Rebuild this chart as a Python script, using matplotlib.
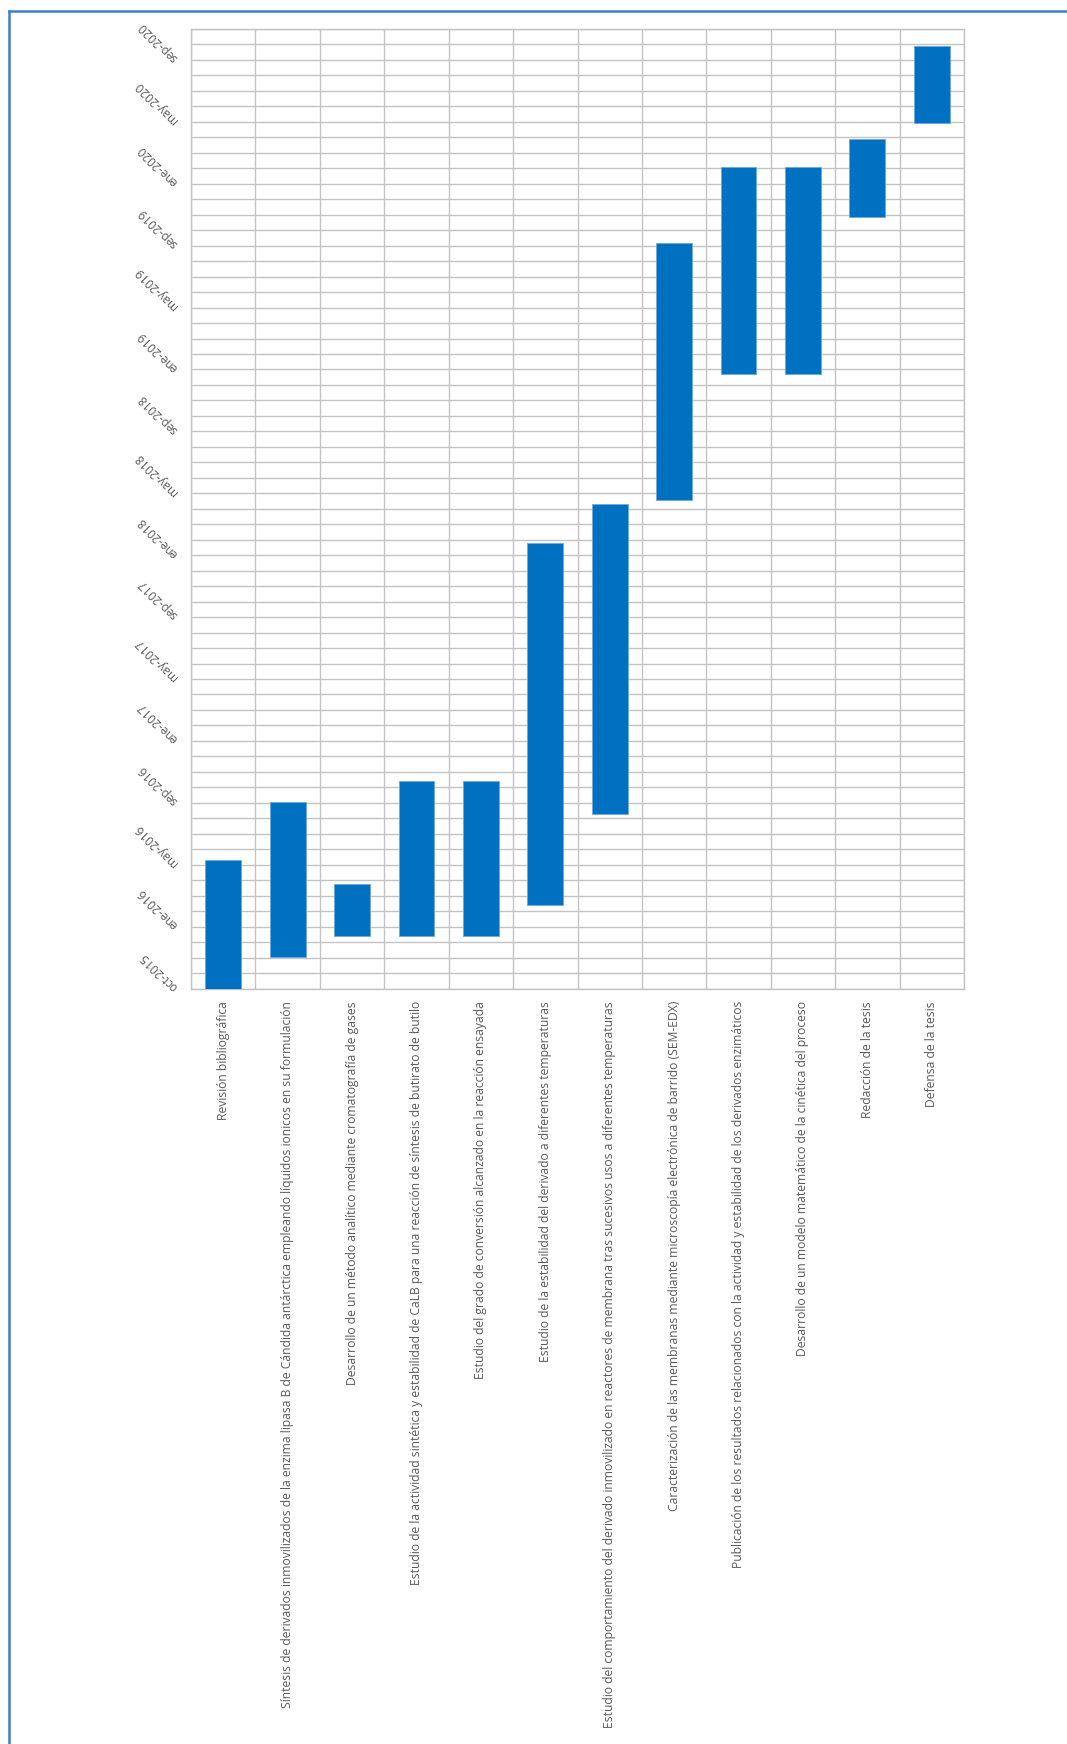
import matplotlib
matplotlib.use("Agg")
import matplotlib.pyplot as plt
import matplotlib.dates as mdates
from matplotlib.lines import Line2D
import numpy as np
import datetime as dt

tasks = [
    "Revisión bibliográfica",
    "Síntesis de derivados inmovilizados de la enzima lipasa B de Cándida antárctica empleando líquidos ionicos en su formulación",
    "Desarrollo de un método analítico mediante cromatografía de gases",
    "Estudio de la actividad sintética y estabilidad de CaLB para una reacción de síntesis de butirato de butilo",
    "Estudio del grado de conversión alcanzado en la reacción ensayada",
    "Estudio de la estabilidad del derivado a diferentes temperaturas",
    "Estudio del comportamiento del derivado inmovilizado en reactores de membrana tras sucesivos usos a diferentes temperaturas",
    "Caracterización de las membranas mediante microscopía electrónica de barrido (SEM-EDX)",
    "Publicación de los resultados relacionados con la actividad y estabilidad de los derivados enzimáticos",
    "Desarrollo de un modelo matemático de la cinética del proceso",
    "Redacción de la tesis",
    "Defensa de la tesis",
]
start_dates = ["2015-10-01", "2015-12-01", "2016-01-11", "2016-01-11", "2016-01-11", "2016-03-11",
               "2016-09-03", "2018-05-05", "2019-01-04", "2019-01-04", "2019-11-05", "2020-05-05"]
end_dates = ["2016-06-07", "2016-09-27", "2016-04-21", "2016-11-06", "2016-11-06", "2018-02-10",
             "2018-04-27", "2019-09-16", "2020-02-10", "2020-02-10", "2020-04-03", "2020-10-02"]
date_tick_labels = ["oct-2015", "ene-2016", "may-2016", "sep-2016", "ene-2017", "may-2017", "sep-2017",
                    "ene-2018", "may-2018", "sep-2018", "ene-2019", "may-2019", "sep-2019", "ene-2020",
                    "may-2020", "sep-2020"]
axis_start = "2015-10-01"
major_days = 120
minor_days = 30
axis_span_days = 1860

plt.rcParams['font.family'] = ['Open Sans', 'DejaVu Sans']

fig = plt.figure(figsize=(10.67, 17.44), dpi=100)
W, H = 1067, 1744
ax = fig.add_axes([191 / W, 1 - 988.5 / H, (964 - 191) / W, (988.5 - 29) / H])

to_num = lambda s: mdates.date2num(dt.datetime.strptime(s, "%Y-%m-%d"))
starts = np.array([to_num(s) for s in start_dates])
ends = np.array([to_num(s) for s in end_dates])
x = np.arange(len(tasks))

ax.bar(x, ends - starts, bottom=starts, width=0.555, color="#0070C0",
       edgecolor="#6fa8dc", linewidth=0.6, zorder=3)

y0 = to_num(axis_start)
ax.set_ylim(y0, y0 + axis_span_days)
ax.set_xlim(-0.5, len(tasks) - 0.5)

# gridlines
gc = "#c3c3c3"
for d in np.arange(0, axis_span_days + 1, minor_days):
    ax.axhline(y0 + d, color=gc, lw=1.0, zorder=1)
for b in np.arange(-0.5, len(tasks), 1.0):
    ax.axvline(b, color=gc, lw=1.0, zorder=1)
for s in ax.spines.values():
    s.set_color(gc)
    s.set_linewidth(1.0)

ax.set_yticks([y0 + major_days * k for k in range(len(date_tick_labels))])
ax.set_yticklabels(date_tick_labels, rotation=135, ha="left", va="center",
                   rotation_mode="anchor", fontsize=8.5, color="#595959")
ax.tick_params(axis="y", length=0, pad=11)

ax.set_xticks(x)
ax.set_xticklabels(tasks, rotation=90, ha="center", va="top", fontsize=8.7, color="#595959")
ax.tick_params(axis="x", length=0, pad=9)

# frame border
bc = "#3d7fc8"
fig.add_artist(Line2D([8.5 / W, 8.5 / W], [0, 1 - 11 / H], color=bc, lw=1.8, transform=fig.transFigure))
fig.add_artist(Line2D([8.5 / W, 1], [1 - 11 / H, 1 - 11 / H], color=bc, lw=1.8, transform=fig.transFigure))

fig.savefig("out.png", dpi=100, facecolor="white")
